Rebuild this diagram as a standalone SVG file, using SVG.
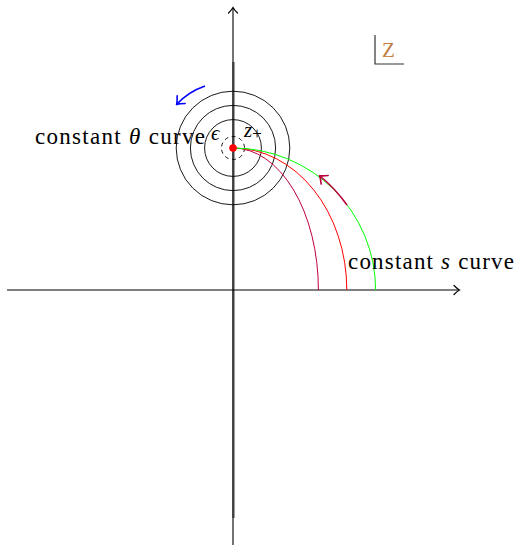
<svg xmlns="http://www.w3.org/2000/svg" width="522" height="552" viewBox="0 0 522 552">
<defs>
<marker id="ah" viewBox="-6 -6 8 12" markerWidth="8" markerHeight="12" refX="0" refY="0" orient="auto" markerUnits="userSpaceOnUse">
<path d="M-5,-4.5 Q-1.5,-1 0.5,0 Q-1.5,1 -5,4.5" fill="none" stroke-width="1.2" stroke="#000" stroke-linecap="round"/>
</marker>
<marker id="ahb" viewBox="-8 -7 10 14" markerWidth="10" markerHeight="14" refX="0" refY="0" orient="auto" markerUnits="userSpaceOnUse">
<path d="M-6,-5.5 Q-2,-1.5 0.5,0 Q-2,1.5 -6,5.5" fill="none" stroke="#0000ff" stroke-width="1.6" stroke-linecap="round"/>
</marker>
<marker id="ahp" viewBox="-8 -7 10 14" markerWidth="10" markerHeight="14" refX="0" refY="0" orient="auto" markerUnits="userSpaceOnUse">
<path d="M-6,-5.5 Q-2,-1.5 0.5,0 Q-2,1.5 -6,5.5" fill="none" stroke="#bf0040" stroke-width="1.6" stroke-linecap="round"/>
</marker>
</defs>
<style>
.ax{stroke:#000;stroke-width:1.1;fill:none}
.circ{stroke:#000;stroke-width:0.9;fill:none}
.curve{fill:none;stroke-width:1}
.lbl{font-family:"Liberation Serif",serif;fill:#000}
</style>
<rect width="522" height="552" fill="#fff"/>
<g id="axes">
<line x1="233.5" y1="62" x2="233.5" y2="518" stroke="#888" stroke-width="2.6"/>
<line class="ax" x1="7" y1="290" x2="459" y2="290" marker-end="url(#ah)"/>
<line class="ax" x1="233" y1="545" x2="233" y2="8" marker-end="url(#ah)"/>
</g>
<g id="circles">
<circle class="circ" cx="233" cy="148" r="28.4"/>
<circle class="circ" cx="233" cy="148" r="42.6"/>
<circle class="circ" cx="233" cy="148" r="56.8"/>
<circle cx="233" cy="148" r="11.5" fill="none" stroke="#000" stroke-width="0.9" stroke-dasharray="4,3.5"/>
</g>
<g id="curves">
<path class="curve" stroke="#bf0040" d="M233,148 A85.4,142 0 0 1 318.4,290"/>
<path class="curve" stroke="#ff0000" d="M233,148 A113.8,142 0 0 1 346.8,290"/>
<path class="curve" stroke="#00ff00" d="M233,148 A142.6,142 0 0 1 375.6,290"/>
</g>
<circle id="point" cx="233" cy="148" r="3.8" fill="#ff0000"/>
<g id="connectors">
<path d="M205,86 A70,70 0 0 0 177,104" fill="none" stroke="#0000ff" stroke-width="1.6" marker-end="url(#ahb)"/>
<path d="M347,205 A150,150 0 0 0 320,176" fill="none" stroke="#bf0040" stroke-width="1.6" marker-end="url(#ahp)"/>
</g>
<g id="label-theta">
<text class="lbl" x="35" y="144" font-size="23" textLength="170" lengthAdjust="spacing">constant <tspan font-style="italic">θ</tspan> curve</text>
</g>
<g id="label-s">
<text class="lbl" x="348" y="269" font-size="23" textLength="166" lengthAdjust="spacing">constant <tspan font-style="italic">s</tspan> curve</text>
</g>
<g id="label-eps">
<text class="lbl" x="211" y="140" font-size="21" font-style="italic">ϵ</text>
</g>
<g id="label-zplus">
<text class="lbl" x="244" y="137" font-size="21" font-style="italic">z<tspan font-style="normal" font-size="17" dy="2">+</tspan></text>
</g>
<g id="label-Z">
<polyline points="375,35 375,64 404,64" fill="none" stroke="#333" stroke-width="1.2"/>
<text class="lbl" x="382" y="57" font-size="21" style="fill:#bf8040">Z</text>
</g>
</svg>
